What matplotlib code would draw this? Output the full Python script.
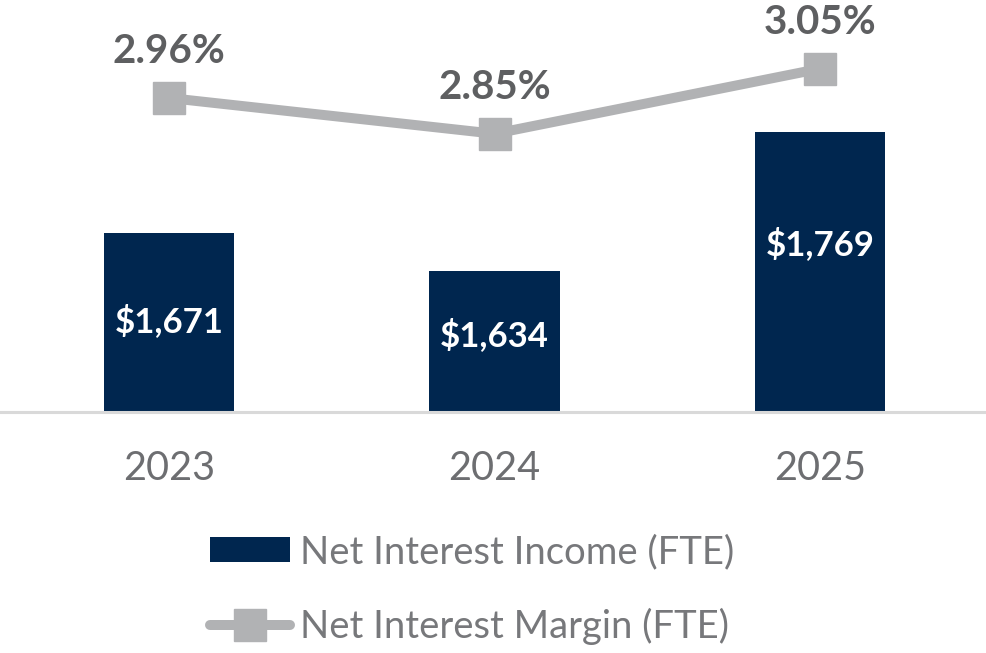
import matplotlib
matplotlib.use("Agg")
import matplotlib.pyplot as plt
from matplotlib.patches import Patch
from matplotlib.lines import Line2D

plt.rcParams["font.family"] = ["Lato", "DejaVu Sans"]

years = ["2023", "2024", "2025"]
nii = [1671, 1634, 1769]          # Net Interest Income (FTE), $M
nim = [2.96, 2.85, 3.05]          # Net Interest Margin (FTE), %
bar_labels = ["$1,671", "$1,634", "$1,769"]
nim_labels = ["2.96%", "2.85%", "3.05%"]
label_frac = [0.51, 0.55, 0.60]   # where the value sits inside each bar

NAVY = "#00264f"
LINE_GREY = "#b1b2b4"
DARK_GREY = "#5e5f61"
TICK_GREY = "#6d6e71"
LEG_GREY = "#77787b"

W, H = 986, 653
fig = plt.figure(figsize=(W / 100, H / 100), dpi=100)
base_px = 412
ax = fig.add_axes([0, (H - base_px) / H, 1, base_px / H])

x = list(range(len(years)))
ybase = 1498
ax.bar(x, [v - ybase for v in nii], bottom=ybase, width=0.40, color=NAVY, zorder=2)
ax.set_xlim(-169 / 325.5, (W - 169) / 325.5)
ax.set_ylim(ybase, ybase + base_px / 1.035)

for xi, v, lab, f in zip(x, nii, bar_labels, label_frac):
    ax.text(xi, ybase + (v - ybase) * f, lab, ha="center", va="center",
            color="white", fontsize=25, fontweight="bold")

for s in ["top", "left", "right"]:
    ax.spines[s].set_visible(False)
ax.spines["bottom"].set_color("#d9d9d9")
ax.spines["bottom"].set_linewidth(2.2)
ax.set_yticks([])
ax.set_xticks(x, years)
ax.tick_params(axis="x", length=0, pad=27, labelsize=28.5, labelcolor=TICK_GREY)

ax2 = ax.twinx()
ax2.set_ylim(1.9944, 3.2613)
ax2.set_yticks([])
for s in ax2.spines.values():
    s.set_visible(False)
ax2.plot(x, nim, color=LINE_GREY, lw=7.2, marker="s", markersize=23,
         solid_capstyle="round", zorder=3)
for xi, v, lab in zip(x, nim, nim_labels):
    ax2.annotate(lab, (xi, v), xytext=(0, 25), textcoords="offset points",
                 ha="center", va="baseline", color=DARK_GREY,
                 fontsize=29, fontweight="bold")

handles = [
    Patch(facecolor=NAVY, edgecolor="none"),
    Line2D([0], [0], color=LINE_GREY, lw=7.2, marker="s", markersize=23,
           solid_capstyle="round"),
]
fig.legend(handles, ["Net Interest Income (FTE)", "Net Interest Margin (FTE)"],
           loc="upper left", bbox_to_anchor=(210 / W, 1 - 534 / H),
           frameon=False, labelcolor=LEG_GREY, fontsize=27.5,
           handlelength=2.1, handleheight=0.63, handletextpad=0.25,
           labelspacing=0.98, borderpad=0, borderaxespad=0)

fig.savefig("out.png", dpi=100)
